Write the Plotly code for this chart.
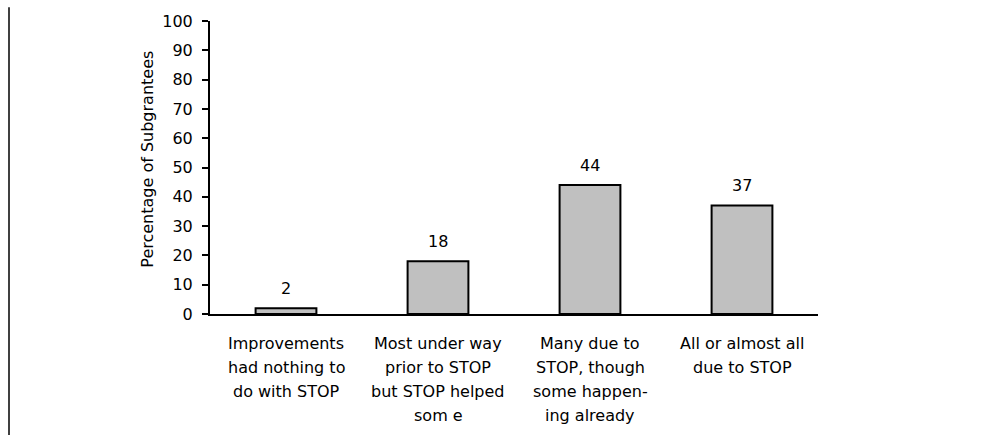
import plotly.graph_objects as go

categories = ["Improvements<br>had nothing to<br>do with STOP",
              "Most under way<br>prior to STOP<br>but STOP helped<br>som e",
              "Many due to<br>STOP, though<br>some happen-<br>ing already",
              "All or almost all<br>due to STOP"]
values = [2, 18, 44, 37]
y_ticks = [0, 10, 20, 30, 40, 50, 60, 70, 80, 90, 100]
y_title = "Percentage of Subgrantees"

FONT = "DejaVu Sans"
FS = 16
keys = ["c1", "c2", "c3", "c4"]

fig = go.Figure()
fig.add_trace(go.Bar(
    x=keys, y=values, width=0.4,
    marker=dict(color="#c0c0c0", line=dict(color="black", width=2)),
    hoverinfo="skip",
))

annotations = []
# value labels above bars
for k, v in zip(keys, values):
    annotations.append(dict(x=k, y=v, xref="x", yref="y", text=str(v),
                            showarrow=False, yshift=20, yanchor="middle",
                            font=dict(family=FONT, size=FS, color="black")))
# multi-line category labels with wider line spacing
for k, lab in zip(keys, categories):
    for i, line in enumerate(lab.split("<br>")):
        annotations.append(dict(x=k, y=0, xref="x", yref="paper", text=line,
                                showarrow=False, yanchor="middle",
                                yshift=-(29 + 24 * i),
                                font=dict(family=FONT, size=FS, color="black")))
# y-axis title
annotations.append(dict(x=-62 / 608, y=158 / 300, xref="paper", yref="paper",
                        text=y_title, textangle=-90, showarrow=False,
                        xanchor="center", yanchor="middle",
                        font=dict(family=FONT, size=FS, color="black")))

fig.update_layout(
    width=995, height=438,
    margin=dict(l=210, r=177, t=14, b=124),
    paper_bgcolor="white", plot_bgcolor="white",
    showlegend=False,
    font=dict(family=FONT, size=FS, color="black"),
    annotations=annotations,
    shapes=[dict(type="line", xref="paper", yref="paper",
                 x0=-201 / 608, x1=-201 / 608, y0=-124 / 300, y1=14 / 300 + 1,
                 line=dict(color="black", width=1.5))],
)
fig.update_xaxes(showticklabels=False, showline=True, linecolor="black",
                 linewidth=2, ticks="", showgrid=False, zeroline=False,
                 range=[-0.5, 3.5])
fig.update_yaxes(range=[0, 100], tickvals=y_ticks, showline=True,
                 linecolor="black", linewidth=2, ticks="outside", ticklen=6,
                 tickwidth=1.5, tickcolor="black", showgrid=False, zeroline=False,
                 ticklabelstandoff=6,
                 tickfont=dict(family=FONT, size=FS, color="black"))

fig.write_html("out.html", config={"displayModeBar": False},
               post_script="document.body.style.margin='0';document.body.style.overflow='hidden';")
